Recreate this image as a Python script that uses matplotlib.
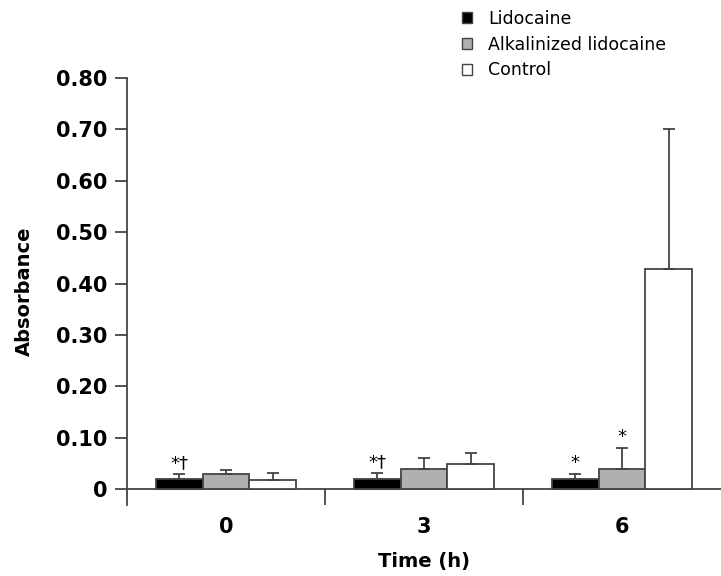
import numpy as np
import matplotlib.pyplot as plt
from matplotlib.patches import Patch

plt.rcParams['font.family'] = ['DejaVu Sans']

times = ['0', '3', '6']
groups = ['Lidocaine', 'Alkalinized lidocaine', 'Control']
means = {
    'Lidocaine': [0.020, 0.020, 0.020],
    'Alkalinized lidocaine': [0.030, 0.039, 0.040],
    'Control': [0.018, 0.048, 0.428],
}
errs = {
    'Lidocaine': [0.010, 0.012, 0.010],
    'Alkalinized lidocaine': [0.008, 0.021, 0.040],
    'Control': [0.014, 0.022, 0.272],
}
marks = {
    'Lidocaine': ['*†', '*†', '*'],
    'Alkalinized lidocaine': ['', '', '*'],
    'Control': ['', '', ''],
}
colors = ['#000000', '#b0b0b0', '#ffffff']
edge = '#444444'

fig = plt.figure(figsize=(7.21, 5.76), dpi=100)
ax = fig.add_axes([0.176, 0.1224, 0.824, 0.7422])

x = np.arange(len(times))
w = 0.236
for i, g in enumerate(groups):
    pos = x + (i - 1) * w
    ax.bar(pos, means[g], w, color=colors[i], edgecolor=edge, linewidth=1.3, zorder=2)
    ax.errorbar(pos, means[g], yerr=[np.zeros(3), errs[g]], fmt='none',
                ecolor=edge, elinewidth=1.3, capsize=4.5, capthick=1.3, zorder=3)
    for p, m, e, s in zip(pos, means[g], errs[g], marks[g]):
        if s:
            ax.text(p, m + e + 0.003, s, ha='center', va='bottom', fontsize=13)

ax.set_xlim(-0.5, 2.5)
ax.set_ylim(-0.032, 0.80)
ax.axhline(0, color=edge, linewidth=1.3, zorder=1)
ax.vlines([0.5, 1.5], -0.032, 0, color=edge, linewidth=1.3)

for s in ['top', 'right', 'bottom']:
    ax.spines[s].set_visible(False)
ax.spines['left'].set_color(edge)
ax.spines['left'].set_linewidth(1.3)

yt = np.arange(0, 0.81, 0.1)
ax.set_yticks(yt)
ax.set_yticklabels(['0'] + ['%.2f' % v for v in yt[1:]], fontsize=15, fontweight='bold')
ax.tick_params(axis='y', length=9, width=1.3, color=edge, pad=5)
ax.set_xticks(x)
ax.set_xticklabels(times, fontsize=15, fontweight='bold')
ax.tick_params(axis='x', length=0, pad=8)

ax.set_ylabel('Absorbance', fontsize=14, fontweight='bold', labelpad=16)
ax.set_xlabel('Time (h)', fontsize=14, fontweight='bold', labelpad=11)

handles = [Patch(facecolor=c, edgecolor=edge, label=g) for c, g in zip(colors, groups)]
fig.legend(handles=handles, loc='upper left', bbox_to_anchor=(0.619, 1.01),
           frameon=False, fontsize=12.5, handlelength=0.6, handleheight=0.6,
           handletextpad=0.9, labelspacing=0.45)

fig.savefig('out.png', dpi=100)
